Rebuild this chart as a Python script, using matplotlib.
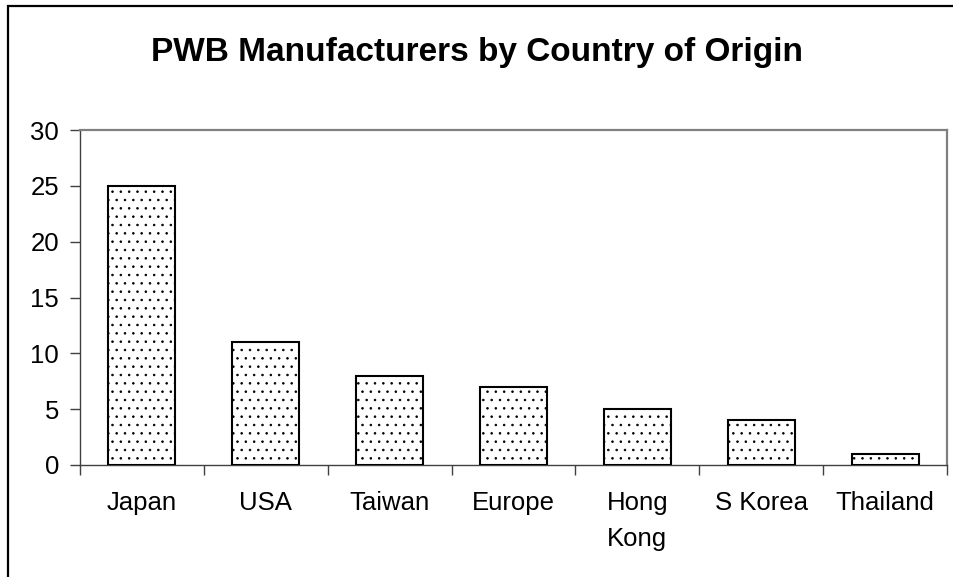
import matplotlib
matplotlib.use("Agg")
import matplotlib.pyplot as plt
from matplotlib.patches import Rectangle

categories = ["Japan", "USA", "Taiwan", "Europe", "Hong\nKong", "S Korea", "Thailand"]
values = [25, 11, 8, 7, 5, 4, 1]
yticks = [0, 5, 10, 15, 20, 25, 30]

plt.rcParams['font.family'] = ['Liberation Sans', 'DejaVu Sans']
plt.rcParams['hatch.color'] = '#303030'
plt.rcParams['hatch.linewidth'] = 0.6

fig = plt.figure(figsize=(9.54, 5.77), dpi=100)
ax = fig.add_axes([80/954, 1-465/577, 867/954, 335/577])

x = list(range(len(categories)))
ax.bar(x, values, width=0.54, facecolor='white', edgecolor='black',
       linewidth=1.5, hatch='..', zorder=3)

ax.set_xlim(-0.5, len(categories) - 0.5)
ax.set_ylim(0, 30)
ax.set_yticks(yticks)
ax.set_yticklabels([str(v) for v in yticks])
ax.set_xticks(x)
ax.set_xticklabels(categories, linespacing=1.6, va='top')
ax.set_xticks([i - 0.5 for i in range(len(categories) + 1)], minor=True)

ax.tick_params(axis='x', which='major', length=0, pad=19, labelsize=18.5)
ax.tick_params(axis='x', which='minor', length=7, width=1, color='#404040', direction='out')
ax.tick_params(axis='y', length=7, width=1, color='#404040', direction='out', pad=8, labelsize=18.5)

for s in ['left', 'bottom']:
    ax.spines[s].set_color('#404040')
    ax.spines[s].set_linewidth(1)
for s in ['top', 'right']:
    ax.spines[s].set_color('#808080')
    ax.spines[s].set_linewidth(1.6)

fig.text(477/954, 1-52/577, "PWB Manufacturers by Country of Origin",
         ha='center', va='center', fontsize=24, fontweight='bold')

fig.patches.append(Rectangle((8/954, -0.5), 2.0, 0.5 + 1 - 5.5/577,
                             transform=fig.transFigure, fill=False,
                             edgecolor='black', linewidth=1.6, clip_on=False))

fig.savefig("out.png", dpi=100)
